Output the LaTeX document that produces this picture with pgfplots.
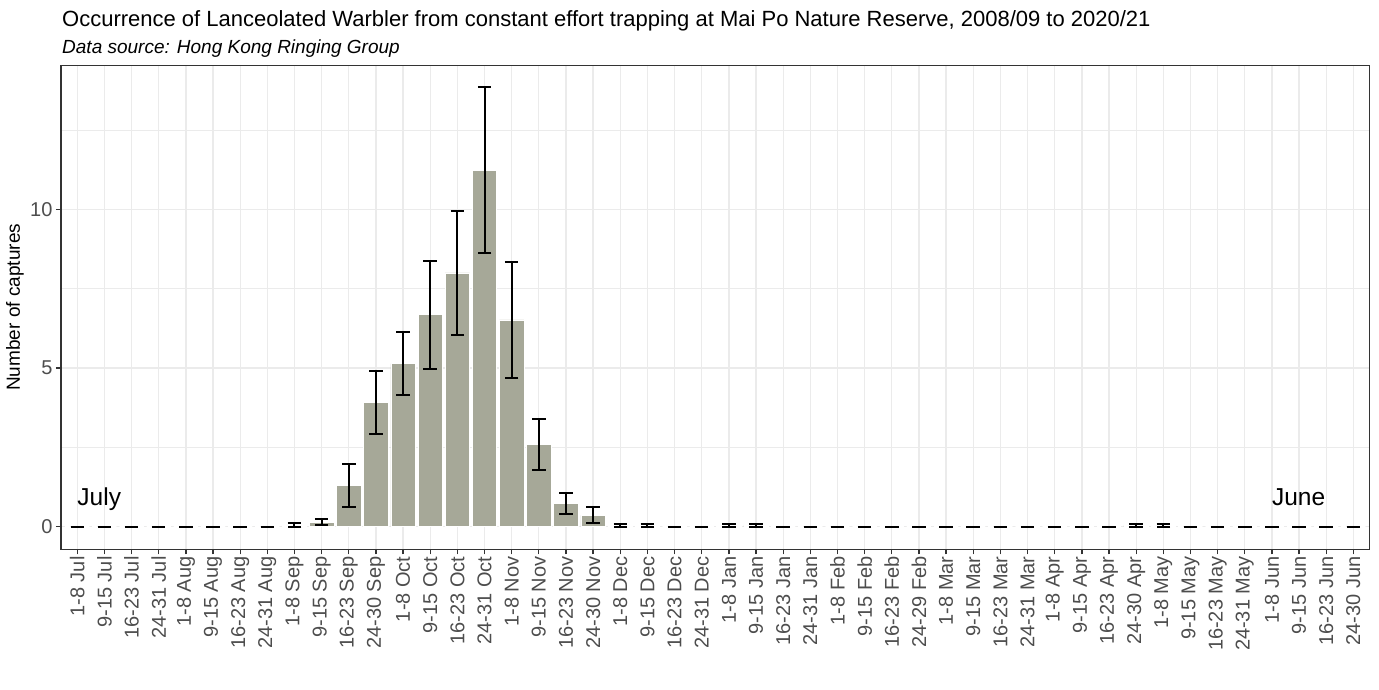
\documentclass[border=0pt]{standalone}
\usepackage{pgfplots}
\pgfplotsset{compat=1.18}
\usepackage{fontspec}
\setmainfont{Liberation Sans}
\definecolor{barfill}{HTML}{A6A898}
\definecolor{grid92}{HTML}{EBEBEB}
\definecolor{grey20}{HTML}{333333}
\definecolor{grey30}{HTML}{4D4D4D}
\pgfplotstableread{
x y e
0 0 0
1 0 0
2 0 0
3 0 0
4 0 0
5 0 0
6 0 0
7 0 0
8 0.05 0.07
9 0.14 0.10
10 1.30 0.68
11 3.92 0.99
12 5.14 0.99
13 6.68 1.70
14 8.00 1.96
15 11.23 2.62
16 6.52 1.83
17 2.59 0.81
18 0.74 0.33
19 0.36 0.25
20 0.04 0.06
21 0.04 0.06
22 0 0
23 0 0
24 0.04 0.06
25 0.04 0.06
26 0 0
27 0 0
28 0 0
29 0 0
30 0 0
31 0 0
32 0 0
33 0 0
34 0 0
35 0 0
36 0 0
37 0 0
38 0 0
39 0.04 0.06
40 0.04 0.06
41 0 0
42 0 0
43 0 0
44 0 0
45 0 0
46 0 0
47 0 0
}\datatable
\begin{document}
\begin{tikzpicture}[x=1pt,y=1pt]
\path[use as bounding box] (-61,-139.7) rectangle (1318,549.3);
\node[anchor=base west, inner sep=0pt, font=\fontsize{22}{24}\selectfont] at (1,522.5) {Occurrence of Lanceolated Warbler from constant effort trapping at Mai Po Nature Reserve, 2008/09 to 2020/21};
\node[anchor=base west, inner sep=0pt, font=\fontsize{19}{22}\selectfont\itshape] at (1,496) {Data source: Hong Kong Ringing Group};
\begin{axis}[
  scale only axis, width=1308.6pt, height=484pt,
  xmin=-0.6, xmax=47.6, ymin=-0.712, ymax=14.54,
  ybar, bar width=0.9,
  axis line style={grey20, line width=1.3pt},
  xtick={0,...,47},
  xticklabels={1-8 Jul,9-15 Jul,16-23 Jul,24-31 Jul,1-8 Aug,9-15 Aug,16-23 Aug,24-31 Aug,1-8 Sep,9-15 Sep,16-23 Sep,24-30 Sep,1-8 Oct,9-15 Oct,16-23 Oct,24-31 Oct,1-8 Nov,9-15 Nov,16-23 Nov,24-30 Nov,1-8 Dec,9-15 Dec,16-23 Dec,24-31 Dec,1-8 Jan,9-15 Jan,16-23 Jan,24-31 Jan,1-8 Feb,9-15 Feb,16-23 Feb,24-29 Feb,1-8 Mar,9-15 Mar,16-23 Mar,24-31 Mar,1-8 Apr,9-15 Apr,16-23 Apr,24-30 Apr,1-8 May,9-15 May,16-23 May,24-31 May,1-8 Jun,9-15 Jun,16-23 Jun,24-30 Jun},
  ytick={0,5,10},
  minor ytick={2.5,7.5,12.5},
  grid=both,
  major grid style={grid92, line width=1.3pt},
  minor grid style={grid92, line width=0.8pt},
  tick align=outside, tick pos=left,
  major tick length=5pt,
  every tick/.style={grey20, line width=1.3pt},
  minor tick length=0pt,
  x tick label style={rotate=90, anchor=east, font=\fontsize{20}{20}\selectfont, text=grey30, inner sep=2pt},
  y tick label style={font=\fontsize{20}{20}\selectfont, text=grey30},
  /pgf/number format/assume math mode=true,
  ylabel={Number of captures},
  every axis y label/.style={at={(rel axis cs:0,0.5)}, rotate=90, anchor=base, yshift=41pt, font=\fontsize{19}{19}\selectfont},
  clip=false,
]
\addplot[fill=barfill, draw=white, line width=0.6pt,
  error bars/.cd, y dir=both, y explicit,
  error bar style={black, line width=2pt},
  error mark options={rotate=90, black, line width=2pt, mark size=6.75pt}]
  table[x=x, y=y, y error=e] {\datatable};
\node[anchor=base west, inner sep=0pt, font=\fontsize{24.5}{24.5}\selectfont] at (axis cs:0,0.68) {July};
\node[anchor=base west, inner sep=0pt, font=\fontsize{24.5}{24.5}\selectfont] at (axis cs:44,0.68) {June};
\end{axis}
\end{tikzpicture}
\end{document}
